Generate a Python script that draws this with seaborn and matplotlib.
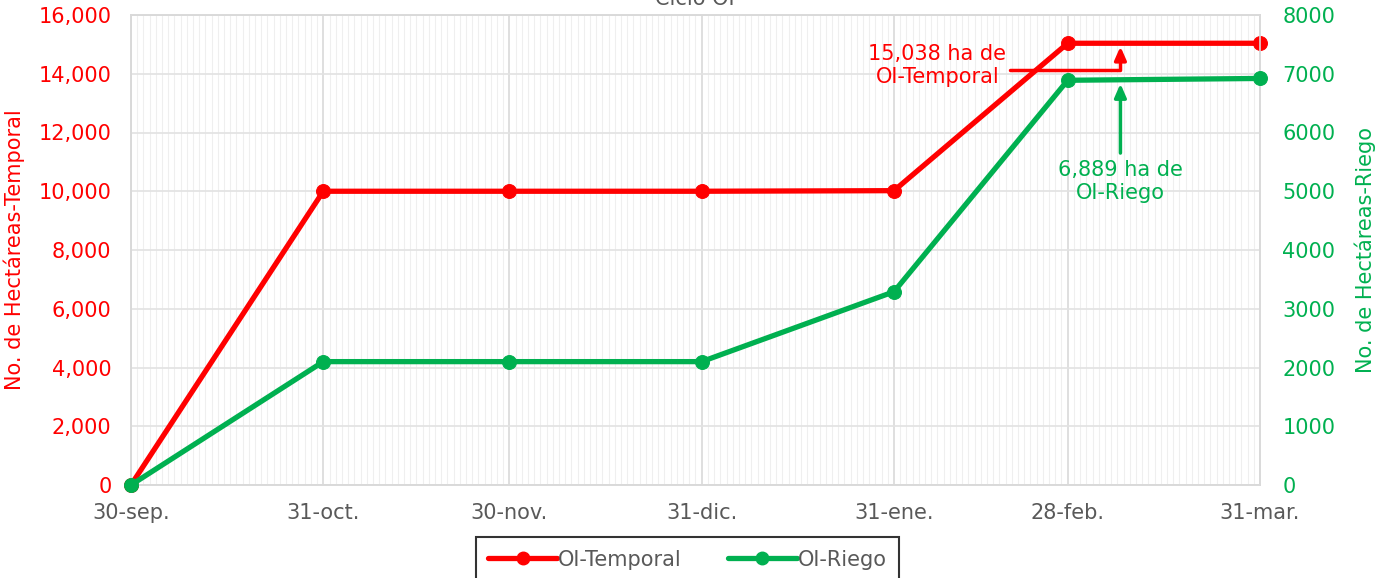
import numpy as np
import pandas as pd
import matplotlib
matplotlib.use("Agg")
import matplotlib.pyplot as plt
import matplotlib.dates as mdates
from matplotlib.ticker import FuncFormatter, MultipleLocator
from matplotlib.lines import Line2D
import seaborn as sns

# ---- data ----
fechas = ["2022-09-30", "2022-10-31", "2022-11-30", "2022-12-31",
          "2023-01-31", "2023-02-28", "2023-03-31"]
etiquetas_x = ["30-sep.", "31-oct.", "30-nov.", "31-dic.", "31-ene.", "28-feb.", "31-mar."]
oi_temporal = [0, 10000, 10000, 10000, 10020, 15038, 15038]
oi_riego = [0, 2100, 2100, 2100, 3290, 6889, 6920]
titulo = "Ciclo OI"
nota_temporal = "15,038 ha de\nOI-Temporal"
nota_riego = "6,889 ha de\nOI-Riego"

RED = "#FF0000"
GREEN = "#00B050"
GRAY = "#595959"
FS = 15

sns.set_style("white")
plt.rcParams["font.family"] = ["DejaVu Sans"]

df_t = pd.DataFrame({"fecha": pd.to_datetime(fechas), "ha": oi_temporal})
df_r = pd.DataFrame({"fecha": pd.to_datetime(fechas), "ha": oi_riego})

fig = plt.figure(figsize=(13.79, 5.78), dpi=100)
W, H = 1379, 578
ax1 = fig.add_axes([131 / W, 1 - 485 / H, (1260 - 131) / W, (485 - 15) / H])
ax2 = ax1.twinx()

sns.lineplot(data=df_t, x="fecha", y="ha", ax=ax1, color=RED, lw=3.8,
             marker="o", markersize=10, markeredgecolor=RED, clip_on=False, zorder=5)
sns.lineplot(data=df_r, x="fecha", y="ha", ax=ax2, color=GREEN, lw=3.8,
             marker="o", markersize=10, markeredgecolor=GREEN, clip_on=False, zorder=5)

x0 = pd.Timestamp(fechas[0])
x1 = pd.Timestamp(fechas[-1])
ax1.set_xlim(x0, x1)
ax1.set_ylim(0, 16000)
ax2.set_ylim(0, 8000)

# ticks
ax1.set_xticks(pd.to_datetime(fechas))
ax1.set_xticklabels(etiquetas_x)
ax1.xaxis.set_minor_locator(mdates.DayLocator())
ax1.yaxis.set_major_locator(MultipleLocator(2000))
ax2.yaxis.set_major_locator(MultipleLocator(1000))
ax1.yaxis.set_major_formatter(FuncFormatter(lambda v, p: f"{int(v):,}"))
ax2.yaxis.set_major_formatter(FuncFormatter(lambda v, p: f"{int(v)}"))

ax1.tick_params(axis="x", which="major", colors="#D9D9D9", labelcolor=GRAY,
                labelsize=FS, length=6, pad=7, direction="out")
ax1.tick_params(axis="x", which="minor", colors="#EFEFEF", length=4, direction="out")
ax1.tick_params(axis="y", colors=RED, labelsize=FS, length=0, pad=14)
ax2.tick_params(axis="y", colors=GREEN, labelsize=FS, length=0, pad=16)

# grid
ax1.grid(True, which="minor", axis="x", color="#EFEFEF", lw=0.8)
ax1.grid(True, which="major", axis="x", color="#D9D9D9", lw=1.2)
ax1.grid(True, which="major", axis="y", color="#E2E2E2", lw=1.2)
ax1.set_axisbelow(True)
for ax in (ax1, ax2):
    for s in ax.spines.values():
        s.set_color("#D9D9D9")
        s.set_linewidth(1.2)

ax1.set_xlabel("")
ax1.set_ylabel("No. de Hectáreas-Temporal", color=RED, fontsize=FS, labelpad=10)
ax2.set_ylabel("No. de Hectáreas-Riego", color=GREEN, fontsize=FS, labelpad=14)

# title (cut off at top, as in the reference)
fig.text(0.504, 1 - 5 / H, titulo, ha="center", va="baseline", fontsize=FS, color=GRAY)

# annotations
feb = pd.Timestamp(fechas[5])
xa = feb + pd.Timedelta(days=8.5)
xs = feb - pd.Timedelta(days=9.3)
ax1.text(feb - pd.Timedelta(days=21), 14281, nota_temporal, color=RED, fontsize=FS,
         ha="center", va="center", linespacing=1.2)
ax1.annotate("", xy=(xa, 14930), xytext=(xs, 14128),
             arrowprops=dict(arrowstyle="-|>,head_length=0.8,head_width=0.35", color=RED, lw=2.5,
                             connectionstyle="angle,angleA=0,angleB=90,rad=0",
                             shrinkA=0, shrinkB=0))
ax2.text(xa, 5160, nota_riego, color=GREEN, fontsize=FS, ha="center", va="center",
         linespacing=1.2)
ax2.annotate("", xy=(xa, 6830), xytext=(xa, 5650),
             arrowprops=dict(arrowstyle="-|>,head_length=0.8,head_width=0.35", color=GREEN, lw=2.5,
                             shrinkA=0, shrinkB=0))

# legend
handles = [Line2D([0], [0], color=RED, lw=3.8, marker="o", markersize=9),
           Line2D([0], [0], color=GREEN, lw=3.8, marker="o", markersize=9)]
leg = fig.legend(handles, ["OI-Temporal", "OI-Riego"], loc="upper center",
                 bbox_to_anchor=(687.5 / W, 1 - 537 / H), ncol=2, frameon=True,
                 fancybox=False, fontsize=FS, handlelength=3.3, handletextpad=0.05,
                 columnspacing=2.2, borderpad=0.6, borderaxespad=0, labelcolor=GRAY)
leg.get_frame().set_edgecolor("black")
leg.get_frame().set_linewidth(1.5)

fig.savefig("out.png", dpi=100)
